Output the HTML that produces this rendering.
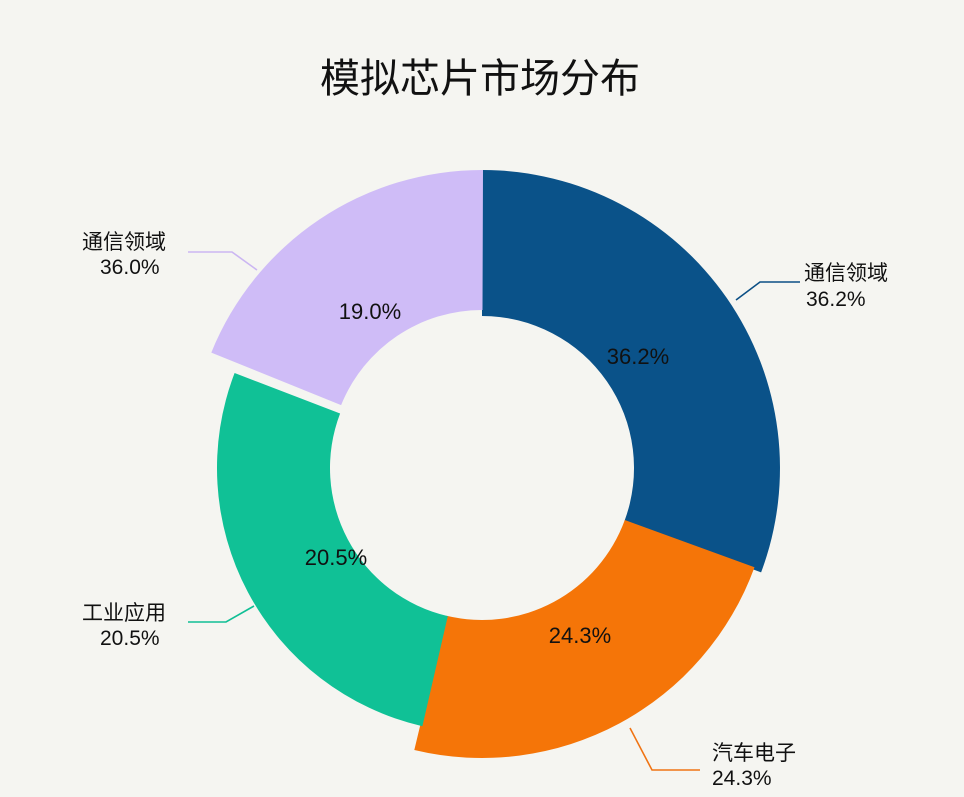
<!DOCTYPE html>
<html><head><meta charset="utf-8"><style>
html,body{margin:0;padding:0;background:#f5f5f1;}
svg{display:block;font-family:"Liberation Sans","Noto Sans CJK SC",sans-serif;}
</style></head><body>
<svg id="s" width="964" height="797" viewBox="0 0 964 797">
<rect width="964" height="797" fill="#f5f5f1"/>
<text x="480" y="92" text-anchor="middle" font-size="40" fill="#111">模拟芯片市场分布</text>
<g id="g"></g>
<g font-size="22" fill="#111" text-anchor="middle">
<text x="638" y="364">36.2%</text>
<text x="580" y="643">24.3%</text>
<text x="336" y="565">20.5%</text>
<text x="370" y="319">19.0%</text>
</g>
<g fill="none" stroke-width="1.6">
<polyline points="736,300 760,282 800,282" stroke="#0b4f85"/>
<polyline points="630,728 652,770 700,770" stroke="#f07414"/>
<polyline points="254,606 226,622 188,622" stroke="#10bf95"/>
<polyline points="257,270 232,252 188,252" stroke="#cbb6f2"/>
</g>
<g font-size="21" fill="#111">
<text x="804" y="280">通信领域</text>
<text x="806" y="306">36.2%</text>
<text x="712" y="760">汽车电子</text>
<text x="712" y="785">24.3%</text>
<text x="82" y="620">工业应用</text>
<text x="100" y="645">20.5%</text>
<text x="82" y="249">通信领域</text>
<text x="100" y="274">36.0%</text>
</g>
</svg>
<script>
function arc(cx,cy,ro,ri,a0,a1){
 function p(r,a){a=(a-90)*Math.PI/180;return [(cx+r*Math.cos(a)).toFixed(1),(cy+r*Math.sin(a)).toFixed(1)];}
 var l=(a1-a0)>180?1:0,A=p(ro,a0),B=p(ro,a1),C=p(ri,a1),D=p(ri,a0);
 return "M"+A+" A"+ro+","+ro+" 0 "+l+" 1 "+B+" L"+C+" A"+ri+","+ri+" 0 "+l+" 0 "+D+"Z";
}
var segs=[[482,468,298,152,0,110.5,"#0a5289"],[482,468,290,152,110,193.5,"#f57508"],[482,468,265,152,193,291,"#10c196"],[482,462,292,152,292,360.2,"#cfbcf7"]];
var h="";segs.forEach(function(s){h+='<path d="'+arc(s[0],s[1],s[2],s[3],s[4],s[5])+'" fill="'+s[6]+'"/>';});
document.getElementById("g").innerHTML=h;
</script>
</body></html>
